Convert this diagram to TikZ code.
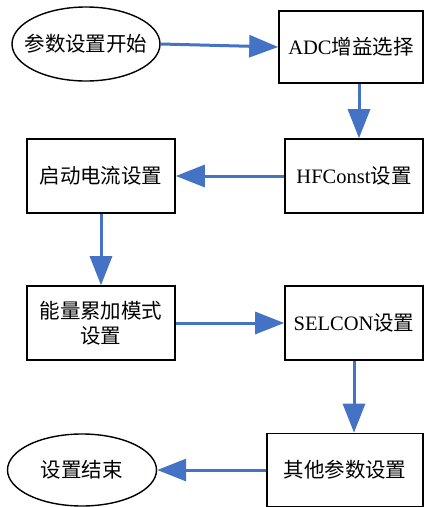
\documentclass[tikz,border=0pt]{standalone}
\usepackage{fontspec}
\setmainfont{Liberation Serif}
\newfontfamily\cjk{Noto Sans CJK SC}
\usetikzlibrary{shapes.geometric,arrows.meta}
\definecolor{arrowblue}{HTML}{4472C4}
\tikzset{
  stepbox/.style={draw=black, line width=1.6pt, rectangle, inner sep=0pt, align=center, font=\fontsize{20.5}{25}\selectfont},
  termnode/.style={draw=black, line width=1.4pt, ellipse, inner sep=0pt},
  termtext/.style={inner sep=0pt, font=\fontsize{20.5}{25}\selectfont},
  flow/.style={draw=arrowblue, line width=3pt, -{Triangle[length=29pt,width=22pt]}}
}
\begin{document}
\begin{tikzpicture}[x=1pt,y=-1pt]
\useasboundingbox (0,0) rectangle (424,507);
\node[termnode, minimum width=148pt, minimum height=74pt] (s) at (86,44) {};
\node[termtext] (stxt) at (s.center) {\cjk 参数设置开始};
\node[stepbox, minimum width=144pt, minimum height=72pt] (adc) at (351,47) {ADC\cjk 增益选择};
\node[stepbox, minimum width=138pt, minimum height=74pt] (hf) at (354,176) {HFConst\cjk 设置};
\node[stepbox, minimum width=148pt, minimum height=74pt] (qd) at (101,176) {\cjk 启动电流设置};
\node[stepbox, minimum width=148pt, minimum height=74pt] (nl) at (101,323) {\cjk 能量累加模式\\\cjk 设置};
\node[stepbox, minimum width=138pt, minimum height=74pt] (sel) at (354,323) {SELCON\cjk 设置};
\node[stepbox, minimum width=156pt, minimum height=73pt] (qt) at (345,470) {\cjk 其他参数设置};
\node[termnode, minimum width=149pt, minimum height=72pt] (e) at (82,470) {};
\node[termtext] (etxt) at (e.center) {\cjk 设置结束};
\draw[flow] (s.east) -- (adc.west);
\draw[flow] ([xshift=8pt]adc.south) -- ([xshift=5pt]hf.north);
\draw[flow] (hf.west) -- (qd.east);
\draw[flow] (qd.south) -- (nl.north);
\draw[flow] (nl.east) -- (sel.west);
\draw[flow] (sel.south) -- ([xshift=9pt]qt.north);
\draw[flow] (qt.west) -- (e.east);
\end{tikzpicture}
\end{document}
